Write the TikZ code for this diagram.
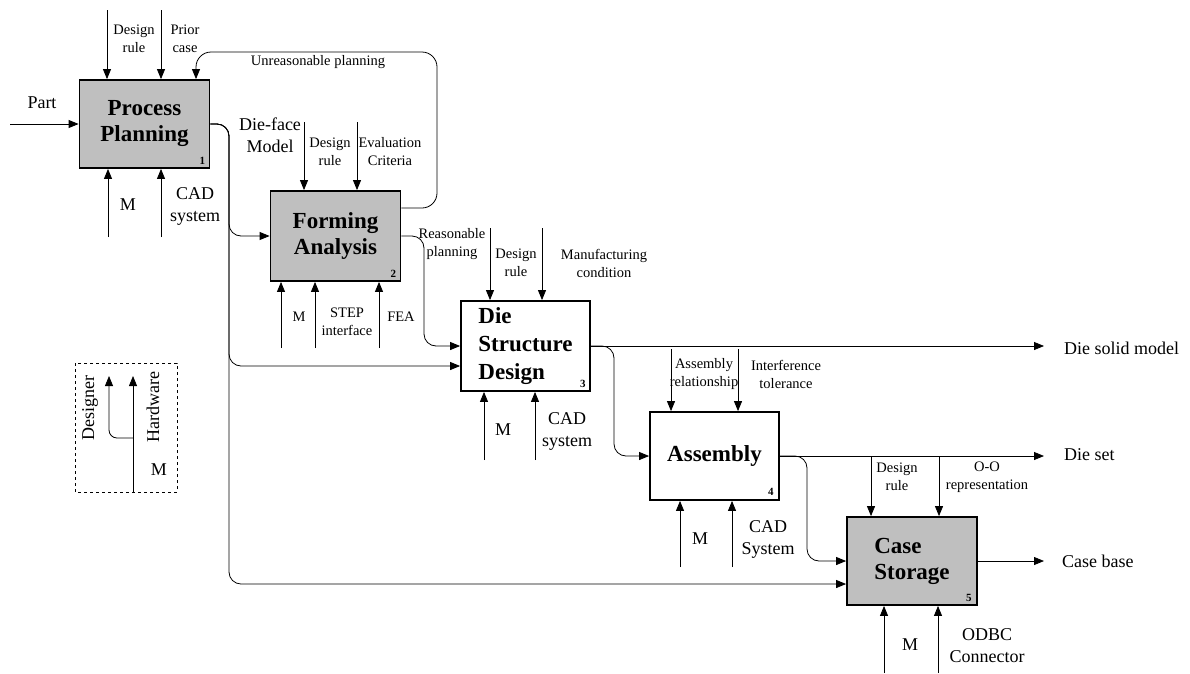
\documentclass[tikz,border=0pt]{standalone}
\usepackage{fontspec}
\setmainfont{Liberation Serif}
\usetikzlibrary{arrows.meta, positioning}

\tikzset{
    box/.style={draw, line width=1.8pt, minimum width=130pt, minimum height=88pt, inner sep=0pt,
        font=\fontsize{23}{26}\selectfont\bfseries, align=center},
    shaded/.style={fill=black!25},
    arr/.style={-{Triangle[length=10pt,width=8pt]}, line width=0.8pt},
    lbl/.style={font=\fontsize{18}{22}\selectfont, align=center, inner sep=0pt},
    small/.style={font=\fontsize{14.5}{18}\selectfont, align=center, inner sep=0pt},
    num/.style={font=\fontsize{11}{11}\selectfont\bfseries, anchor=south east, inner sep=0pt},
}

\begin{document}
\begin{tikzpicture}[x=1pt, y=-1pt]
    \useasboundingbox (0,0) rectangle (1190,673);

    % Activity boxes
    \node[box, shaded] (b1) at (144.5,124) {Process\\Planning};
    \node[box, shaded, minimum height=90pt] (b2) at (335.5,236) {Forming\\Analysis};
    \node[box, minimum width=129pt, minimum height=90pt, align=left,
        font=\fontsize{23}{28}\selectfont\bfseries] (b3) at (525.5,346) {Die\\Structure\\Design};
    \node[box, minimum width=129pt] (b4) at (714.5,456) {Assembly};
    \node[box, shaded, align=left] (b5) at (912,561) {Case\\Storage};

    % Box numbers
    \node[num] (n1) at ([shift={(-5pt,4pt)}]b1.south east) {1};
    \node[num] (n2) at ([shift={(-5pt,4pt)}]b2.south east) {2};
    \node[num] (n3) at ([shift={(-5pt,4pt)}]b3.south east) {3};
    \node[num] (n4) at ([shift={(-6pt,5pt)}]b4.south east) {4};
    \node[num] (n5) at ([shift={(-6pt,4pt)}]b5.south east) {5};

    % Free ends of controls and mechanisms
    \coordinate (c1a) at (107,10);   \coordinate (c1b) at (161,10);
    \coordinate (m1a) at (108,237);  \coordinate (m1b) at (161,237);
    \coordinate (c2a) at (304,122);  \coordinate (c2b) at (357,122);
    \coordinate (m2a) at (281,348);  \coordinate (m2b) at (315,348);  \coordinate (m2c) at (379,348);
    \coordinate (c3a) at (490,228);  \coordinate (c3b) at (542,228);
    \coordinate (m3a) at (484,460);  \coordinate (m3b) at (535,460);
    \coordinate (c4a) at (671,349);  \coordinate (c4b) at (738,349);
    \coordinate (m4a) at (680,567);  \coordinate (m4b) at (732,567);
    \coordinate (c5a) at (871,456);  \coordinate (c5b) at (939,456);
    \coordinate (m5a) at (884,673);  \coordinate (m5b) at (938,673);

    % Turning points of the flows
    \coordinate (part) at (10,125);
    \coordinate (fork) at (229,0);
    \coordinate (rp) at (424,0);
    \coordinate (sp3) at (614,0);
    \coordinate (sp4) at (807,0);
    \coordinate (out) at (1044,0);
    \coordinate (fbR) at (437,52);
    \coordinate (fbL) at (196,52);
    \coordinate (in3) at ([yshift=-20pt]b3.west);
    \coordinate (in5) at ([yshift=-23pt]b5.west);
    \coordinate (fb2) at ([yshift=28pt]b2.east);

    % Process Planning
    \draw[arr] (c1a) -- (c1a |- b1.north);
    \draw[arr] (c1b) -- (c1b |- b1.north);
    \draw[arr] (m1a) -- (m1a |- b1.south);
    \draw[arr] (m1b) -- (m1b |- b1.south);
    \draw[arr] (part) -- (part |- b1.west) -- (b1.west);
    \node[small] (t1a) at (134,39) {Design\\rule};
    \node[small] (t1b) at (185,39) {Prior\\case};
    \node[lbl] (t1c) at (128,205) {M};
    \node[lbl] (t1d) at (195,206) {CAD\\system};
    \node[lbl] (t1e) at (42,103) {Part};

    % Die-face model to boxes 2, 3 and 5
    \draw[arr, rounded corners=12pt] (b1.east) -- (b1.east -| fork) -- (fork |- b2.west) -- (b2.west);
    \draw[arr, rounded corners=12pt] (b1.east) -- (b1.east -| fork) -- (fork |- in3) -- (in3);
    \draw[arr, rounded corners=12pt] (b1.east) -- (b1.east -| fork) -- (fork |- in5) -- (in5);
    \node[lbl] (t1f) at (270,135) {Die-face\\Model};

    % Forming Analysis
    \draw[arr] (c2a) -- (c2a |- b2.north);
    \draw[arr] (c2b) -- (c2b |- b2.north);
    \draw[arr] (m2a) -- (m2a |- b2.south);
    \draw[arr] (m2b) -- (m2b |- b2.south);
    \draw[arr] (m2c) -- (m2c |- b2.south);
    \node[small] (t2a) at (330,152) {Design\\rule};
    \node[small] (t2b) at (390,152) {Evaluation\\Criteria};
    \node[small] (t2c) at (299,317) {M};
    \node[small] (t2d) at (347,322) {STEP\\interface};
    \node[small] (t2e) at (401,317) {FEA};

    % Feedback and forward flow of box 2
    \draw[arr, rounded corners=15pt] (fb2) -| (fbR) -- (fbL) -- (fbL |- b1.north);
    \node[small] (t2f) at (318,62) {Unreasonable planning};
    \draw[arr, rounded corners=12pt] (b2.east) -- (b2.east -| rp) -- (rp |- b3.west) -- (b3.west);
    \node[small] (t2g) at (452,244) {Reasonable\\planning};

    % Die Structure Design
    \draw[arr] (c3a) -- (c3a |- b3.north);
    \draw[arr] (c3b) -- (c3b |- b3.north);
    \draw[arr] (m3a) -- (m3a |- b3.south);
    \draw[arr] (m3b) -- (m3b |- b3.south);
    \node[small] (t3a) at (516,263) {Design\\rule};
    \node[small] (t3b) at (604,263) {Manufacturing\\condition};
    \node[lbl] (t3c) at (503,430) {M};
    \node[lbl] (t3d) at (567,431) {CAD\\system};
    \draw[arr] (b3.east) -- (b3.east -| out);
    \node[lbl, anchor=west] (t3e) at (1064,348) {Die solid model};
    \draw[arr, rounded corners=12pt] (b3.east) -- (b3.east -| sp3) -- (sp3 |- b4.west) -- (b4.west);

    % Assembly
    \draw[arr] (c4a) -- (c4a |- b4.north);
    \draw[arr] (c4b) -- (c4b |- b4.north);
    \draw[arr] (m4a) -- (m4a |- b4.south);
    \draw[arr] (m4b) -- (m4b |- b4.south);
    \node[small] (t4a) at (704,374) {Assembly\\relationship};
    \node[small] (t4b) at (786,374) {Interference\\tolerance};
    \node[lbl] (t4c) at (700,539) {M};
    \node[lbl] (t4d) at (768,539) {CAD\\System};
    \draw[arr] (b4.east) -- (b4.east -| out);
    \node[lbl, anchor=west] (t4e) at (1064,455) {Die set};
    \draw[arr, rounded corners=12pt] (b4.east) -- (b4.east -| sp4) -- (sp4 |- b5.west) -- (b5.west);

    % Case Storage
    \draw[arr] (c5a) -- (c5a |- b5.north);
    \draw[arr] (c5b) -- (c5b |- b5.north);
    \draw[arr] (m5a) -- (m5a |- b5.south);
    \draw[arr] (m5b) -- (m5b |- b5.south);
    \node[small] (t5a) at (897,477) {Design\\rule};
    \node[small] (t5b) at (987,477) {O-O\\representation};
    \node[lbl] (t5c) at (910,645) {M};
    \node[lbl] (t5d) at (987,646) {ODBC\\Connector};
    \draw[arr] (b5.east) -- (b5.east -| out);
    \node[lbl, anchor=west] (t5e) at (1062,561) {Case base};

    % Legend
    \draw[dashed, line width=0.8pt] (75,363) rectangle (177,492);
    \coordinate (lgM) at (133,492);
    \coordinate (lgH) at (133,376);
    \coordinate (lgJ) at (133,438);
    \coordinate (lgD) at (109,376);
    \draw[arr] (lgM) -- (lgH);
    \draw[arr, rounded corners=8pt] (lgJ) -- (lgJ -| lgD) -- (lgD);
    \node[lbl, rotate=90] (lg1) at (90,408) {Designer};
    \node[lbl, rotate=90] (lg2) at (153,407) {Hardware};
    \node[lbl] (lg3) at (159,470) {M};
\end{tikzpicture}
\end{document}
